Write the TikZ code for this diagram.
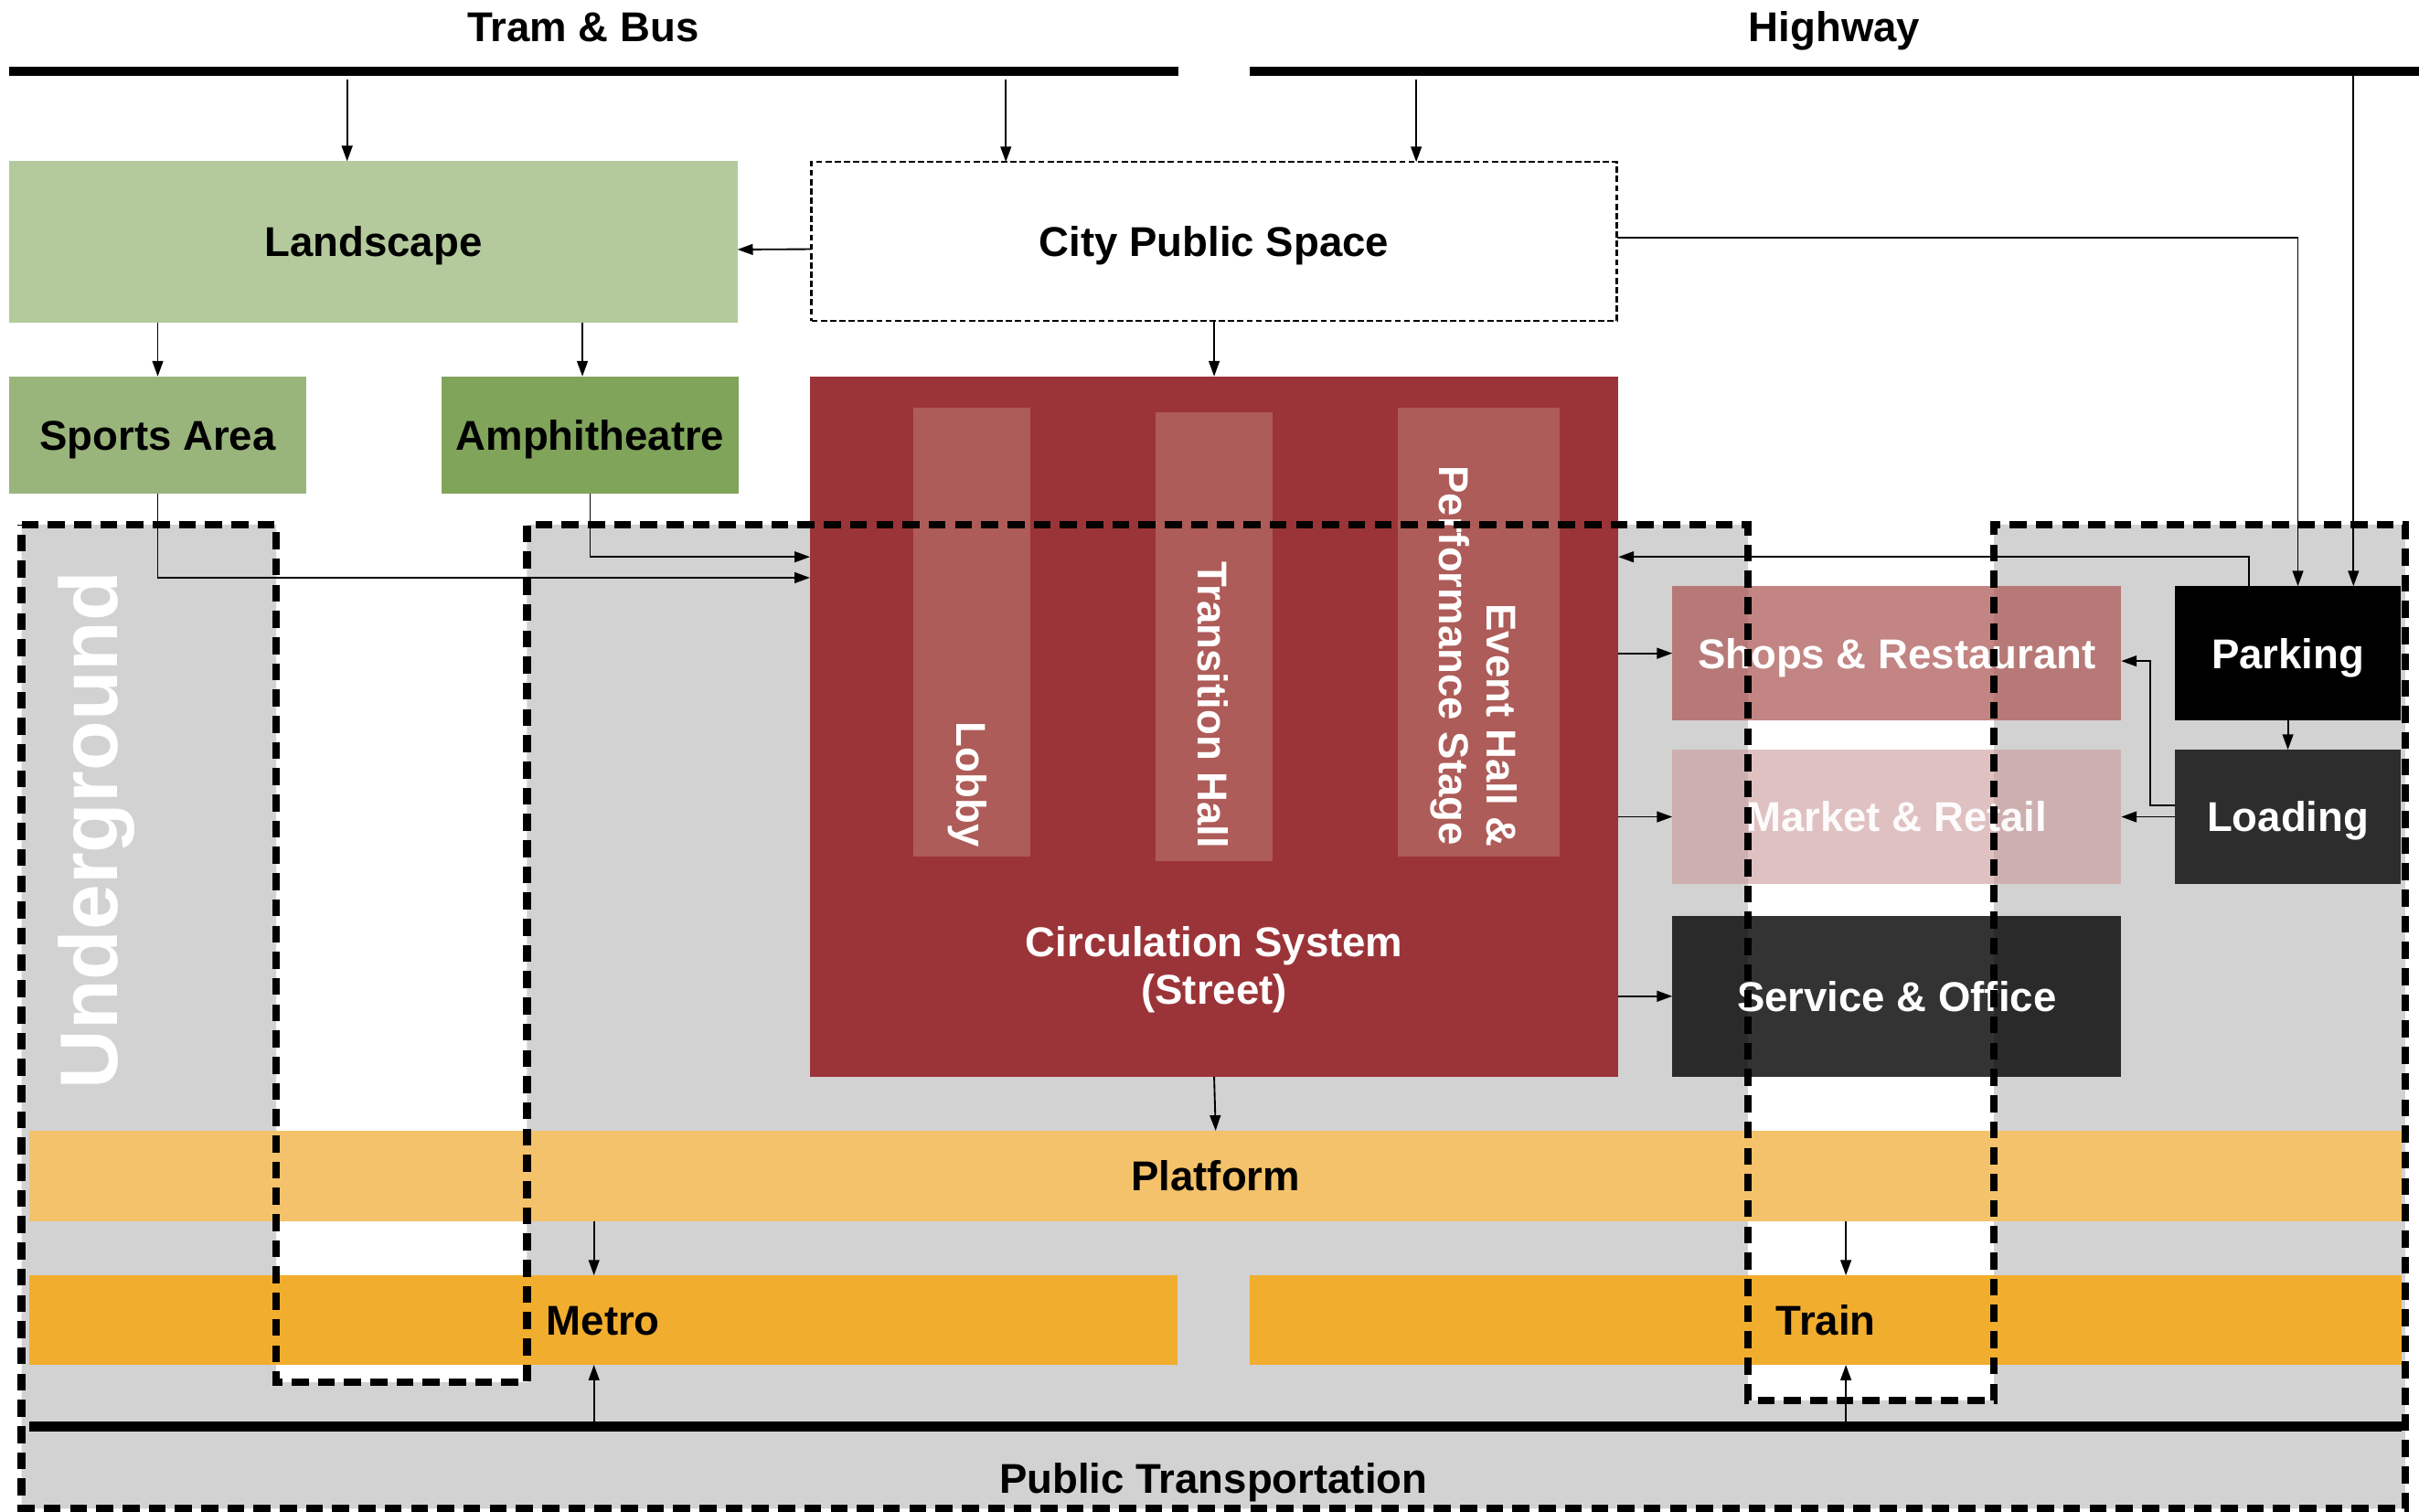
\documentclass[tikz,border=0pt]{standalone}
\usepackage{fontspec}
\setmainfont{Liberation Sans}
\usetikzlibrary{arrows.meta}
\definecolor{ugray}{RGB}{210,210,210}
\definecolor{cred}{RGB}{155,52,56}
\definecolor{cbar}{RGB}{174,92,89}
\definecolor{cland}{RGB}{180,202,157}
\definecolor{csport}{RGB}{154,181,124}
\definecolor{camph}{RGB}{128,164,90}
\definecolor{cplat}{RGB}{243,194,106}
\definecolor{cmetro}{RGB}{241,173,46}
\definecolor{cmarket}{RGB}{203,152,153}
\definecolor{cload}{RGB}{45,45,45}
\newcommand\lblfont{\fontsize{27}{31}\selectfont\bfseries}
\begin{document}
\begin{tikzpicture}[x=1pt,y=-1pt,
  box/.style={rectangle, inner sep=0pt, outer sep=0pt, draw=none,
    text height=19.5pt, text depth=0pt, font=\lblfont},
  txt/.style={inner sep=0pt, outer sep=0pt, font=\lblfont},
  arr/.style={-{Triangle[length=10pt,width=7pt]}, line width=1.1pt},
  bar/.style={line width=6pt},
  ugline/.style={line width=5pt, dash pattern=on 11pt off 6pt}]
\useasboundingbox (0,0) rectangle (1568,980);

% underground area
\fill[ugray] (14,340) -- (179,340) -- (179,896) -- (341.6,896) -- (341.6,340)
  -- (1133,340) -- (1133,907.7) -- (1292.5,907.7) -- (1292.5,340) -- (1559,340)
  -- (1559,978) -- (14,978) -- cycle;
\node[txt, text=white, font=\fontsize{53}{60}\selectfont\bfseries, rotate=90, anchor=base west]
  (ug) at (76,706) {Underground};

% top labels and bars
\node[txt, anchor=base] (tramtxt) at (378,27) {Tram \& Bus};
\node[txt, anchor=base] (hwytxt) at (1189,27) {Highway};
\coordinate (tramL) at (6,46);
\coordinate (tramR) at (764,46);
\coordinate (hwyL) at (810,46);
\coordinate (hwyR) at (1568,46);
\coordinate (tramA) at (225,51.5);
\coordinate (tramB) at (652,51.5);
\coordinate (hwyA) at (918,51.5);
\coordinate (hwyB) at (1525.5,49);
\draw[bar] (tramL) -- (tramR);
\draw[bar] (hwyL) -- (hwyR);

% boxes
\node[box, fill=cland, minimum width=472pt, minimum height=104.5pt] (land) at (242,156.75) {Landscape};
\node[box, fill=white, draw=black, line width=1.5pt, dash pattern=on 4pt off 2pt,
  minimum width=522pt, minimum height=103pt] (cps) at (787,156.5) {City Public Space};
\node[box, fill=csport, minimum width=192.5pt, minimum height=76pt] (sports) at (102.25,282) {Sports Area};
\node[box, fill=camph, minimum width=193pt, minimum height=76pt] (amph) at (382.5,282) {Amphitheatre};
\node[box, fill=cred, minimum width=524pt, minimum height=454pt] (circ) at (787,471) {};
\node[box, fill=cbar, minimum width=76pt, minimum height=291pt] (lobby) at (630,409.5) {};
\node[box, fill=cbar, minimum width=76pt, minimum height=291pt] (trans) at (787,412.5) {};
\node[box, fill=cbar, minimum width=105pt, minimum height=291pt] (event) at (958.5,409.5) {};
\node[txt, text=white, rotate=-90, anchor=base east] (lobbytxt) at (620,549) {Lobby};
\node[txt, text=white, rotate=-90, anchor=base east] (transtxt) at (776.6,550) {Transition Hall};
\node[txt, text=white, rotate=-90, anchor=base east] (eventtxtA) at (963.6,549) {Event Hall \&};
\node[txt, text=white, rotate=-90, anchor=base east] (eventtxtB) at (933,548) {Performance Stage};
\node[txt, text=white, align=center, anchor=north] (circtxt) at (787,600.5) {Circulation System\\(Street)};

\node[box, fill=cbar, fill opacity=0.75, text opacity=1, text=white,
  minimum width=291pt, minimum height=87pt] (shops) at (1229.5,423.5) {Shops \& Restaurant};
\node[box, fill=cmarket, fill opacity=0.6, text opacity=0.95, text=white,
  minimum width=291pt, minimum height=87pt] (market) at (1229.5,529.5) {Market \& Retail};
\node[box, fill=black, fill opacity=0.8, text opacity=1, text=white,
  minimum width=291pt, minimum height=104.4pt] (service) at (1229.5,645.8) {Service \& Office};
\node[box, fill=black, text=white, minimum width=146pt, minimum height=87pt] (parking) at (1483,423.5) {Parking};
\node[box, fill=cload, text=white, minimum width=146pt, minimum height=87pt] (loading) at (1483,529.5) {Loading};

\node[box, fill=cplat, minimum width=1538pt, minimum height=58.6pt] (platform) at (788,762.3) {Platform};
\node[box, fill=cmetro, minimum width=744pt, minimum height=58pt] (metro) at (391,855.75) {Metro};
\node[box, fill=cmetro, minimum width=747pt, minimum height=58pt] (train) at (1183.5,855.75) {Train};

\coordinate (ptL) at (19,924.6);
\coordinate (ptR) at (1557,924.6);
\coordinate (ptA) at (385,921.5);
\coordinate (ptB) at (1196.5,921.5);
\draw[line width=6.3pt] (ptL) -- (ptR);
\node[box] (pt) at (786.5,958) {Public Transportation};

% connectors
\draw[arr] (tramA) -- (tramA |- land.north);
\draw[arr] (tramB) -- (tramB |- cps.north);
\draw[arr] (hwyA) -- (hwyA |- cps.north);
\draw[arr] (hwyB) -- (hwyB |- parking.north);
\draw[arr] ([yshift=-5pt]cps.west) -- ([yshift=-5pt]land.east);
\draw[arr] ([yshift=2.5pt]cps.east) -| ([xshift=6.5pt]parking.north);
\draw[arr] (cps.south) -- (circ.north);
\draw[arr] (sports.north |- land.south) -- (sports.north);
\draw[arr] ([xshift=-5pt]amph.north |- land.south) -- ([xshift=-5pt]amph.north);
\draw[arr] (sports.south) |- ([yshift=96.5pt]circ.west);
\draw[arr] (amph.south) |- ([yshift=110pt]circ.west);
\draw[arr] ([xshift=-25pt]parking.north) |- ([yshift=110pt]circ.east);
\draw[arr] (circ.east |- shops.west) -- (shops.west);
\draw[arr] (circ.east |- market.west) -- (market.west);
\draw[arr] (circ.east |- service.west) -- (service.west);
\draw[arr] (parking.south) -- (loading.north);
\draw[arr] (loading.west) -- (market.east);
\draw[arr] ([yshift=7.5pt]loading.west) -| ([xshift=19pt,yshift=-5pt]shops.east) -- ([yshift=-5pt]shops.east);
\draw[arr] (circ.south) -- (platform.north);
\draw[arr] ([xshift=-6pt]metro.north |- platform.south) -- ([xshift=-6pt]metro.north);
\draw[arr] (ptA) -- (ptA |- metro.south);
\draw[arr] ([xshift=13pt]train.north |- platform.south) -- ([xshift=13pt]train.north);
\draw[arr] (ptB) -- (ptB |- train.south);

% underground outline
\draw[ugline] (14,340) -- (179,340) -- (179,896) -- (341.6,896) -- (341.6,340)
  -- (1133,340) -- (1133,907.7) -- (1292.5,907.7) -- (1292.5,340) -- (1559,340)
  -- (1559,978) -- (14,978) -- cycle;
\end{tikzpicture}
\end{document}
